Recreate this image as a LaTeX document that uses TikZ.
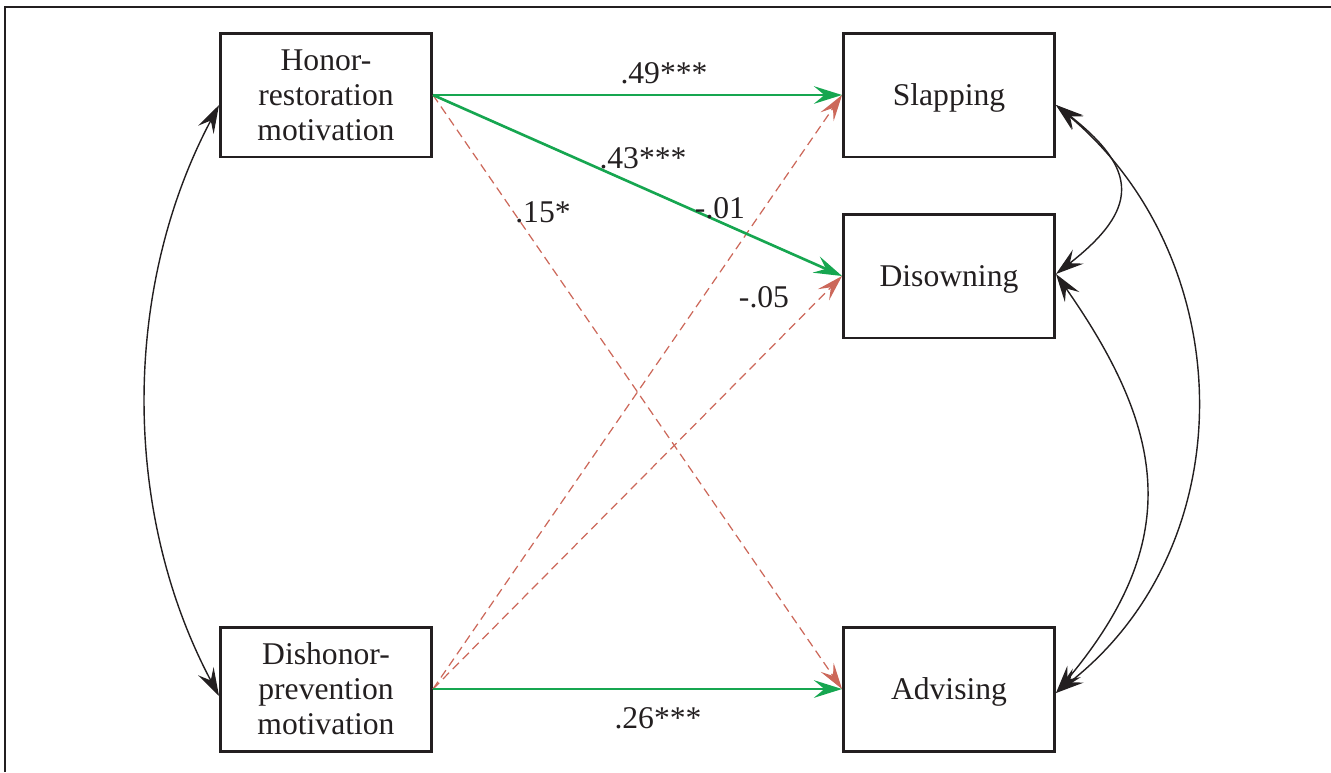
\documentclass[tikz,border=0pt]{standalone}
\usepackage{fontspec}
\setmainfont{Liberation Serif}
\usetikzlibrary{arrows.meta}
\definecolor{inkdark}{RGB}{35,31,32}
\definecolor{posgreen}{RGB}{22,166,80}
\definecolor{negred}{RGB}{204,104,90}
\begin{document}
\begin{tikzpicture}[x=0.02cm, y=-0.02cm,
  varbox/.style={draw=inkdark, line width=1.7pt, minimum width=4.22cm, minimum height=2.48cm,
    align=center, font=\fontsize{18}{20}\selectfont, text=inkdark},
  onebox/.style={varbox, text depth=0pt},
  coef/.style={font=\fontsize{18}{20}\selectfont, text=inkdark, inner sep=0pt},
  pospath/.style={posgreen, line width=1.5pt, -{Stealth[length=16pt, width=10pt, inset=6pt]}},
  negpath/.style={negred, line width=0.7pt, dash pattern=on 5pt off 3pt, -{Stealth[length=15pt, width=9pt, inset=6pt]}},
  covpath/.style={inkdark, line width=0.8pt, {Stealth[length=16pt, width=10pt, inset=6pt]}-{Stealth[length=16pt, width=10pt, inset=6pt]}}]
  \useasboundingbox (0,0) rectangle (1331,772);
  \draw[inkdark, line width=1.1pt] (5,772) -- (5,7) -- (1331,7);
  \node[varbox] at (326,95) (honor) {Honor-\\restoration\\motivation};
  \node[varbox] at (326,689) (dishonor) {Dishonor-\\prevention\\motivation};
  \node[onebox] at (949,95) (slap) {Slapping};
  \node[onebox] at (949,276) (disown) {Disowning};
  \node[onebox] at (949,689) (advise) {Advising};
  % Lines
  \draw[negpath] (honor.east) -- (advise.west);
  \draw[negpath] (dishonor.east) -- (slap.west);
  \draw[negpath] (dishonor.east) -- (disown.west);
  \draw[pospath] (honor.east) -- (slap.west);
  \draw[pospath] (honor.east) -- (disown.west);
  \draw[pospath] (dishonor.east) -- (advise.west);
  % Covariances
  \draw[covpath] ([yshift=-2mm]honor.west) to[out=242, in=118, looseness=0.9] ([yshift=-1.4mm]dishonor.west);
  \draw[covpath] ([yshift=-2mm]slap.east) to[out=-38, in=38, looseness=1.6] ([yshift=0.4mm]disown.east);
  \draw[covpath] ([yshift=-2mm]slap.east) to[out=-40, in=38, looseness=1.05] ([yshift=-0.8mm]advise.east);
  \draw[covpath] ([yshift=0.4mm]disown.east) to[out=-55, in=50, looseness=1.2] ([yshift=-0.8mm]advise.east);
  % Labels
  \node[coef] at (664,73) (c49) {.49***};
  \node[coef] at (643,158) (c43) {.43***};
  \node[coef] at (543,212) (c15) {.15*};
  \node[coef] at (720,208) (c01) {-.01};
  \node[coef] at (764,297) (c05) {-.05};
  \node[coef] at (658,718) (c26) {.26***};
\end{tikzpicture}
\end{document}
